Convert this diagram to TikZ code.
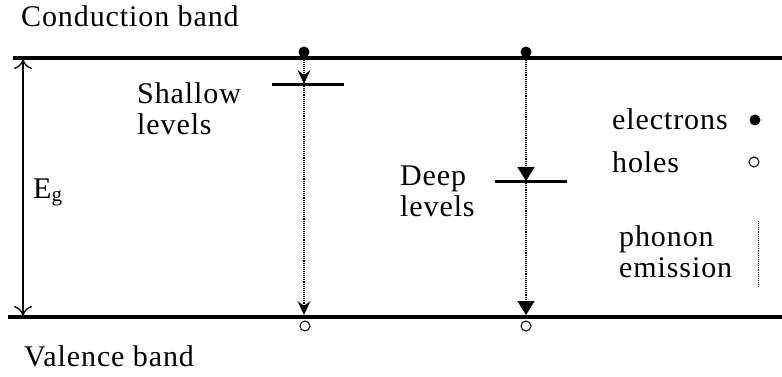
\documentclass[tikz,border=0pt]{standalone}
\usepackage{fontspec}
\setmainfont{Liberation Serif}[LetterSpace=3]
\usetikzlibrary{arrows.meta}
\begin{document}
\begin{tikzpicture}[
    x=1pt, y=-1pt,
    font=\fontsize{30}{31}\selectfont,
    band/.style={line width=3.2pt},
    level/.style={line width=3pt},
    electron/.style={circle, fill=black, inner sep=0pt, minimum size=11pt},
    hole/.style={circle, draw, line width=1pt, inner sep=0pt, minimum size=10pt},
    label/.style={align=left, inner sep=0pt, anchor=base west},
    shallowarrow/.style={densely dotted, line width=1.1pt, -{Stealth[length=14pt, width=13pt, inset=5pt, line cap=butt]}},
    deeparrow/.style={densely dotted, line width=1.1pt, -{Triangle[length=14pt, width=17pt]}},
    gap/.style={line width=1.3pt, {To[length=10pt, width=18pt]}-{To[length=10pt, width=18pt]}}
]
\useasboundingbox (0,0) rectangle (782,377);

% Bands
\coordinate (cbl) at (13,58);
\coordinate (cbr) at (782,58);
\coordinate (vbl) at (8,317);
\coordinate (vbr) at (782,317);
\draw[band] (cbl) -- (cbr);
\draw[band] (vbl) -- (vbr);
\node[label] (cb) at (21,27) {Conduction band};
\node[label] (vb) at (24,366) {Valence band};

% Band gap
\coordinate (gtop) at (23,59);
\coordinate (gbot) at (23,316);
\draw[gap] (gtop) -- (gbot);
\node[label] (eg) at (33,198) {E\textsubscript{g}};

% Shallow levels (base anchor sits on the last line)
\node[electron] (e1) at (304,52) {};
\coordinate (sl) at (272,85);
\coordinate (sr) at (344,85);
\coordinate (s1) at (304,84);
\coordinate (v1) at (304,315);
\node[hole] (h1) at (305,326) {};
\draw[level] (sl) -- (sr);
\draw[shallowarrow] (e1) -- (s1);
\draw[shallowarrow] (s1) -- (v1);
\node[label] (shallow) at (137,135) {Shallow\\levels};

% Deep levels
\node[electron] (e2) at (526,52) {};
\coordinate (dl) at (495,182);
\coordinate (dr) at (567,182);
\coordinate (d1) at (526,181);
\coordinate (v2) at (526,315);
\node[hole] (h2) at (526,326) {};
\draw[level] (dl) -- (dr);
\draw[deeparrow] (e2) -- (d1);
\draw[deeparrow] (d1) -- (v2);
\node[label] (deep) at (400,216) {Deep\\levels};

% Legend
\node[label] (lel) at (612,130) {electrons};
\node[electron] (le) at (755,120) {};
\node[label] (lho) at (612,173) {holes};
\node[hole] (lh) at (754,162) {};
\node[label] (lph) at (619,277) {phonon\\emission};
\coordinate (pt) at (758,221);
\coordinate (pb) at (758,287);
\draw[densely dotted, line width=0.9pt] (pt) -- (pb);

\end{tikzpicture}
\end{document}
